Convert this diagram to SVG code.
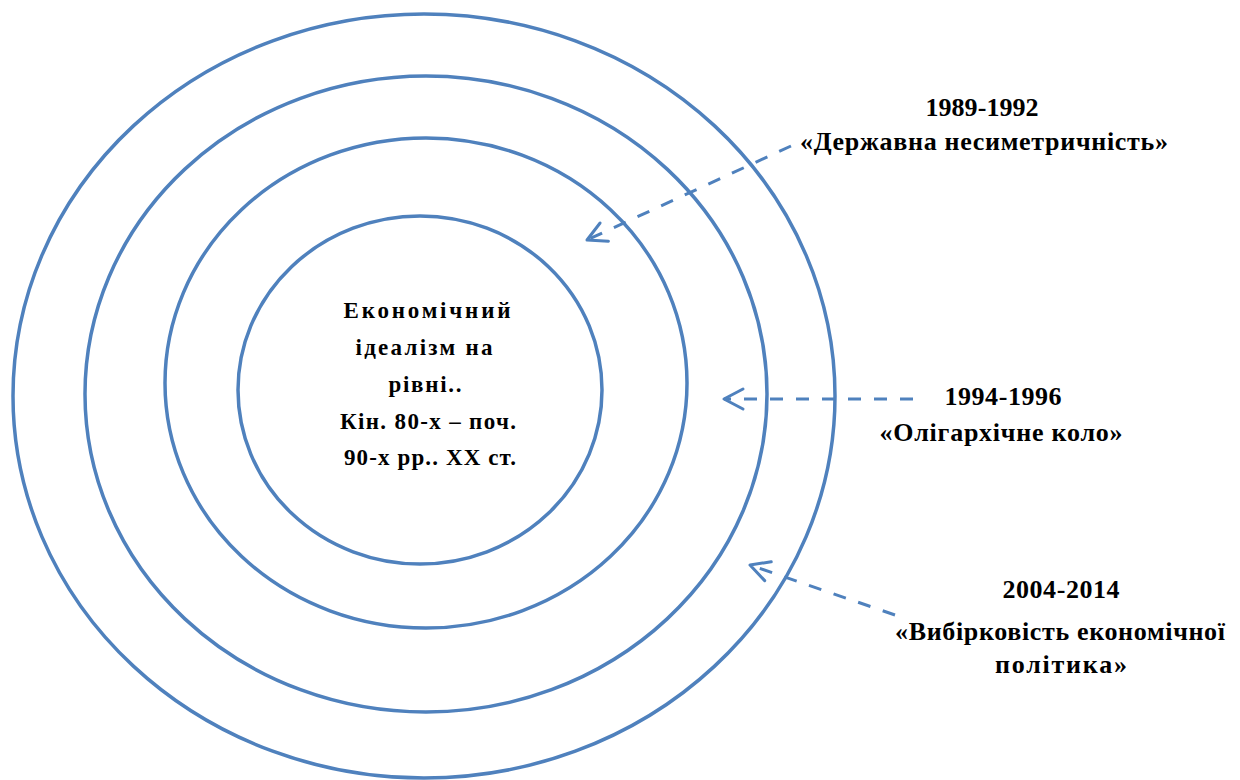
<svg xmlns="http://www.w3.org/2000/svg" width="1240" height="780" viewBox="0 0 1240 780">
  <style>
    .ring { fill: none; stroke: #4f81bd; stroke-width: 3.5; }
    .conn { fill: none; stroke: #4f81bd; stroke-width: 3; stroke-dasharray: 13 13; }
    .lbl { font-family: "Liberation Serif", "Times New Roman", "DejaVu Serif", serif; font-weight: bold; fill: #000; text-anchor: middle; }
    .c { font-size: 23px; }
    .r { font-size: 26px; }
  </style>
  <defs>
    <marker id="open" viewBox="-3 -3 26 26" refX="19" refY="10" markerWidth="26" markerHeight="26" markerUnits="userSpaceOnUse" orient="auto">
      <path d="M0,0 L19,10 L0,20" fill="none" stroke="#4f81bd" stroke-width="3" stroke-dasharray="none" stroke-linecap="round" stroke-linejoin="round"/>
    </marker>
  </defs>
  <rect width="1240" height="780" fill="#fff"/>

  <g id="ring-outer"><ellipse class="ring" cx="424" cy="396" rx="411" ry="382"/></g>
  <g id="ring-2"><ellipse class="ring" cx="426" cy="394" rx="341" ry="318"/></g>
  <g id="ring-3"><ellipse class="ring" cx="426" cy="383" rx="261" ry="245"/></g>
  <g id="ring-inner">
    <ellipse class="ring" cx="420" cy="390" rx="182" ry="174"/>
    <text class="lbl c" x="427" y="318" textLength="167" lengthAdjust="spacing">Економічний</text>
    <text class="lbl c" x="424" y="355" textLength="137" lengthAdjust="spacing">ідеалізм на</text>
    <text class="lbl c" x="425" y="392" textLength="73" lengthAdjust="spacing">рівні..</text>
    <text class="lbl c" x="428" y="429" textLength="176" lengthAdjust="spacing">Кін. 80-х – поч.</text>
    <text class="lbl c" x="430" y="465" textLength="172" lengthAdjust="spacing">90-х рр.. ХХ ст.</text>
  </g>

  <g id="label-1989">
    <text class="lbl r" x="982" y="116" textLength="113" lengthAdjust="spacing">1989-1992</text>
    <text class="lbl r" x="984" y="150" textLength="368" lengthAdjust="spacing">«Державна несиметричність»</text>
  </g>
  <g id="label-1994">
    <text class="lbl r" x="1003" y="405" textLength="117" lengthAdjust="spacing">1994-1996</text>
    <text class="lbl r" x="1001" y="441" textLength="243" lengthAdjust="spacing">«Олігархічне коло»</text>
  </g>
  <g id="label-2004">
    <text class="lbl r" x="1061" y="598" textLength="117" lengthAdjust="spacing">2004-2014</text>
    <text class="lbl r" x="1060" y="640" textLength="330" lengthAdjust="spacing">«Вибірковість економічної</text>
    <text class="lbl r" x="1061" y="673" textLength="132" lengthAdjust="spacing">політика»</text>
  </g>

  <g id="connectors">
    <line class="conn" x1="791" y1="146" x2="587" y2="240" marker-end="url(#open)"/>
    <line class="conn" x1="913" y1="399" x2="724" y2="399" marker-end="url(#open)"/>
    <line class="conn" x1="895" y1="615" x2="750" y2="565" marker-end="url(#open)"/>
  </g>
</svg>
